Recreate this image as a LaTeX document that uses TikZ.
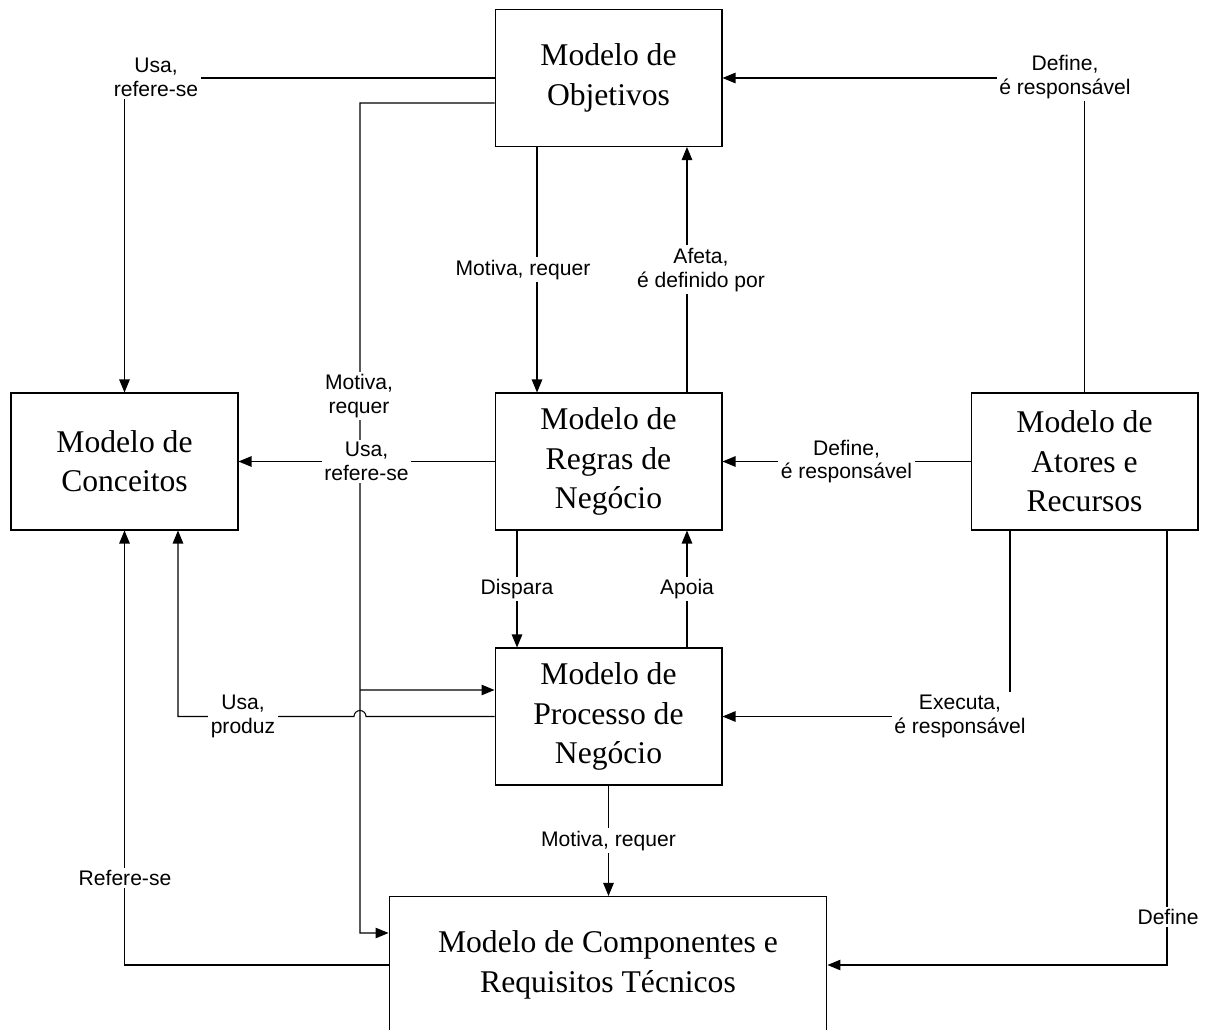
\documentclass[tikz,border=0pt]{standalone}
\usepackage{fontspec}
\setmainfont{Liberation Serif}
\newfontfamily\rotulofont{Liberation Sans}
\usetikzlibrary{arrows.meta,calc,positioning}
\tikzset{
	modelo/.style={draw, line width=0.6pt, minimum width=4.54cm, minimum height=2.74cm, inner sep=0pt, align=center, font=\fontsize{18}{22.4}\selectfont},
	rotulo/.style={fill=white, inner sep=1.5pt, align=center, font=\rotulofont\fontsize{12}{13.6}\selectfont},
	seta/.style={line width=0.6pt, -{Triangle[length=0.26cm,width=0.21cm]}}
}

\begin{document}
\begin{tikzpicture}[x=0.02cm,y=-0.02cm]
	\clip (0,0) rectangle (1207,1030);

	\node[modelo] (obj) at (608.5,78) {Modelo de\\Objetivos};
	\node[modelo] (conc) at (124.5,461.5) {Modelo de\\Conceitos};
	\node[modelo] (regras) at (608.5,461.5) {Modelo de\\Regras de\\Negócio};
	\node[modelo] (atores) at (1084.5,461.5) {Modelo de\\Atores e\\Recursos};
	\node[modelo] (proc) at (608.5,716.5) {Modelo de\\Processo de\\Negócio};
	\node[modelo,minimum width=8.76cm] (comp) at (608,965) {Modelo de Componentes e\\Requisitos Técnicos};

	% objetivos
	\draw[seta] (obj.west) -| (conc.north);
	\node[rotulo] at (156,77) {Usa,\\refere-se};
	\draw[seta] ([xshift=-1.43cm]obj.south) -- node[rotulo,xshift=-0.28cm] {Motiva, requer} ([xshift=-1.43cm]regras.north);
	\draw[seta] ([xshift=1.57cm]regras.north) -- node[rotulo,xshift=0.28cm] {Afeta,\\é definido por} ([xshift=1.57cm]obj.south);
	\draw[seta] (atores.north) |- (obj.east);
	\node[rotulo] at (1065,77) {Define,\\é responsável};

	% barramento vertical
	\coordinate (tap) at (360,690);
	\draw[seta] ([yshift=-0.5cm]obj.west) -| (360,933) -- ([yshift=0.64cm]comp.west);
	\draw[seta] (tap) -- ([yshift=0.53cm]proc.west);
	\node[rotulo] at (359,396) {Motiva,\\requer};

	% regras
	\draw[seta] (regras.west) -- node[rotulo] {Usa,\\refere-se} (conc.east);
	\draw[seta] (atores.west) -- node[rotulo] {Define,\\é responsável} (regras.east);
	\draw[seta] ([xshift=-1.83cm]regras.south) -- node[rotulo] {Dispara} ([xshift=-1.83cm]proc.north);
	\draw[seta] ([xshift=1.57cm]proc.north) -- node[rotulo] {Apoia} ([xshift=1.57cm]regras.south);

	% processo
	\draw[seta] (proc.west) -- (366,716.5) arc[start angle=0,end angle=180,radius=0.12cm] -- (178,716.5) -- ([xshift=1.07cm]conc.south);
	\node[rotulo] at (243,716) {Usa,\\produz};
	\draw[seta] ([xshift=-1.49cm]atores.south) |- (proc.east);
	\node[rotulo] at (960,716) {Executa,\\é responsável};
	\draw[seta] (proc.south) -- node[rotulo] {Motiva, requer} (proc.south |- comp.north);

	% componentes
	\draw[seta] (comp.west) -| (conc.south);
	\node[rotulo] at (125,878) {Refere-se};
	\draw[seta] ([xshift=1.65cm]atores.south) |- (comp.east);
	\node[rotulo] at (1168,917) {Define};
\end{tikzpicture}
\end{document}
